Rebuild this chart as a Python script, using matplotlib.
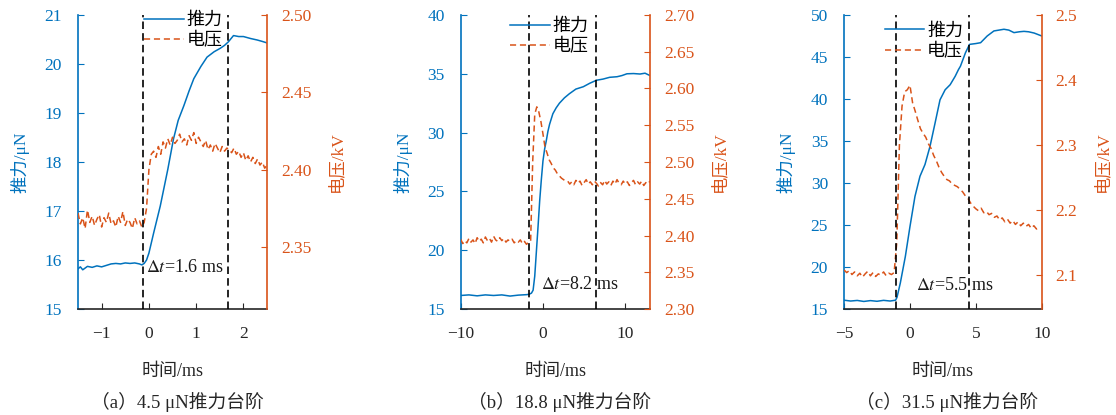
import matplotlib
matplotlib.use('Agg')
import matplotlib.pyplot as plt
import numpy as np
from matplotlib.ticker import FormatStrFormatter

plt.rcParams['font.family'] = ['Liberation Serif', 'Noto Sans CJK SC']
plt.rcParams['mathtext.fontset'] = 'stix'
plt.rcParams['axes.unicode_minus'] = True

BLUE = '#0072BD'
ORANGE = '#D95319'
FS = 12.5

# ---- (a) 4.5 uN step ----
ta_force = [-1.5, -1.45, -1.4, -1.3, -1.2, -1.1, -1.0, -0.9, -0.8, -0.7, -0.6, -0.5,
            -0.4, -0.3, -0.2, -0.15, -0.1, -0.05, 0.0, 0.1, 0.24, 0.4, 0.52, 0.62,
            0.74, 0.85, 0.95, 1.1, 1.23, 1.38, 1.51, 1.6, 1.68, 1.79, 1.9, 2.0,
            2.15, 2.29, 2.4, 2.5]
fa = [15.82, 15.86, 15.80, 15.87, 15.85, 15.88, 15.86, 15.89, 15.92, 15.93, 15.92, 15.94,
      15.93, 15.94, 15.92, 15.90, 15.93, 16.0, 16.14, 16.55, 17.1, 17.85, 18.47, 18.85,
      19.15, 19.45, 19.7, 19.95, 20.14, 20.25, 20.32, 20.38, 20.45, 20.58, 20.56, 20.56,
      20.52, 20.49, 20.46, 20.43]
ta_volt = np.linspace(-1.5, 2.5, 81)
va = [2.372, 2.365, 2.369, 2.362, 2.374, 2.366, 2.370, 2.364, 2.368, 2.371,
      2.363, 2.369, 2.366, 2.372, 2.365, 2.367, 2.363, 2.370, 2.366, 2.373,
      2.364, 2.368, 2.366, 2.362, 2.369, 2.365, 2.367, 2.363,
      2.366, 2.375, 2.400, 2.410,
      2.412, 2.408, 2.415, 2.410, 2.418, 2.414, 2.420, 2.416, 2.421, 2.417,
      2.419, 2.423, 2.418, 2.420, 2.416, 2.422, 2.419, 2.424, 2.417, 2.421,
      2.418, 2.415, 2.419, 2.413, 2.416, 2.412, 2.417, 2.414, 2.411, 2.415, 2.412, 2.414,
      2.413, 2.411, 2.414, 2.410, 2.412, 2.408, 2.411, 2.406, 2.409, 2.405,
      2.408, 2.404, 2.407, 2.403, 2.405, 2.401, 2.403]

# ---- (b) 18.8 uN step ----
tb_force = [-10, -9, -8, -7, -6, -5, -4, -3, -2, -1.7, -1.4, -1.2, -1.0, -0.8, -0.6,
            -0.4, -0.2, 0.0, 0.2, 0.4, 0.6, 0.8, 1.2, 1.6, 2.0, 2.6, 3.2, 4.0, 4.9,
            5.7, 6.5, 7.3, 8.1, 9.0, 9.6, 10.2, 11.0, 11.8, 12.4, 13.0]
fb = [16.15, 16.2, 16.12, 16.2, 16.15, 16.2, 16.1, 16.18, 16.22, 16.25, 16.35, 16.6,
      17.8, 19.9, 22.0, 24.2, 26.0, 27.6, 28.6, 29.3, 30.1, 30.7, 31.6, 32.1, 32.5,
      32.95, 33.3, 33.7, 33.9, 34.2, 34.45, 34.55, 34.7, 34.75, 34.85, 35.0, 35.02,
      34.98, 35.05, 34.85]
tb_volt = np.linspace(-10, 13, 93)
vb = [2.395, 2.389, 2.393, 2.390, 2.396, 2.391, 2.394, 2.389, 2.397, 2.392,
      2.395, 2.390, 2.398, 2.393, 2.396, 2.391, 2.399, 2.394, 2.392, 2.397,
      2.393, 2.396, 2.391, 2.394, 2.392, 2.395, 2.390, 2.393, 2.391, 2.394,
      2.389, 2.392, 2.388, 2.391,
      2.392, 2.500, 2.565, 2.575, 2.568, 2.555, 2.538, 2.520, 2.512, 2.503,
      2.498, 2.492, 2.489, 2.484, 2.481, 2.478, 2.476, 2.474,
      2.474, 2.470, 2.473, 2.469, 2.475, 2.471, 2.474, 2.468, 2.472, 2.476,
      2.470, 2.473, 2.469, 2.474, 2.471, 2.467, 2.472, 2.469, 2.475, 2.470,
      2.473, 2.468, 2.474, 2.470, 2.476, 2.471, 2.469, 2.474, 2.470, 2.473,
      2.468, 2.472, 2.475, 2.469, 2.473, 2.470, 2.474, 2.468, 2.472, 2.470,
      2.474]

# ---- (c) 31.5 uN step ----
tc_force = [-5, -4.5, -4, -3.5, -3, -2.5, -2, -1.5, -1.09, -0.98, -0.73, -0.35, 0.0,
            0.38, 0.76, 1.14, 1.52, 1.9, 2.28, 2.67, 3.05, 3.43, 3.68, 3.83, 4.21,
            4.52, 5.0, 5.36, 5.86, 6.37, 7.13, 7.5, 7.89, 8.3, 8.65, 9.0, 9.42, 10.0]
fc = [16.05, 15.95, 16.02, 15.9, 16.0, 15.92, 16.03, 15.95, 16.05, 16.4, 18.1, 21.25,
      24.8, 28.4, 30.8, 32.2, 34.35, 37.1, 39.9, 41.1, 41.7, 42.7, 43.5, 43.9, 45.5,
      46.5, 46.6, 46.7, 47.5, 48.1, 48.3, 48.2, 47.9, 48.0, 48.05, 48.0, 47.85, 47.5]
tc_volt = np.linspace(-5, 9.8, 75)
vc = [2.108, 2.104, 2.107, 2.101, 2.105, 2.099, 2.103, 2.097, 2.102, 2.106,
      2.099, 2.104, 2.098, 2.102, 2.100, 2.105, 2.099, 2.103, 2.101, 2.104,
      2.150, 2.300, 2.360, 2.382, 2.385, 2.392, 2.365, 2.352, 2.338, 2.325,
      2.318, 2.312, 2.302, 2.295, 2.284, 2.276, 2.266, 2.258, 2.252, 2.247,
      2.245, 2.240, 2.238, 2.236, 2.232, 2.228, 2.222, 2.218, 2.211,
      2.206, 2.202, 2.199, 2.203, 2.196, 2.198, 2.193, 2.195, 2.189, 2.191,
      2.185, 2.188, 2.182, 2.186, 2.180, 2.184, 2.178, 2.182, 2.176, 2.180,
      2.175, 2.178, 2.172, 2.176, 2.171, 2.174]

panels = [
    dict(tf=ta_force, f=fa, tv=ta_volt, v=va, xlim=(-1.5, 2.5), xticks=[-1, 0, 1, 2],
         ylim=(15, 21), yticks=np.arange(15, 22, 1), ylim2=(2.31, 2.50),
         yticks2=[2.35, 2.40, 2.45, 2.50], fmt2='%.2f', vlines=(-0.13, 1.67),
         dt_text=r'$\Delta t$=1.6 ms', dt_pos=(-0.06, 15.85), leg=(0.35, 1.01),
         pos=[0.0699, 0.2554, 0.1694, 0.7085], cap='（a）4.5 μN推力台阶'),
    dict(tf=tb_force, f=fb, tv=tb_volt, v=vb, xlim=(-10, 13), xticks=[-10, 0, 10],
         ylim=(15, 40), yticks=np.arange(15, 41, 5), ylim2=(2.30, 2.70),
         yticks2=np.arange(2.30, 2.71, 0.05), fmt2='%.2f', vlines=(-1.7, 6.5),
         dt_text=r'$\Delta t$=8.2 ms', dt_pos=(-0.3, 17.05), leg=(0.26, 0.99),
         pos=[0.4128, 0.2554, 0.1696, 0.7085], cap='（b）18.8 μN推力台阶'),
    dict(tf=tc_force, f=fc, tv=tc_volt, v=vc, xlim=(-5, 10), xticks=[-5, 0, 5, 10],
         ylim=(15, 50), yticks=np.arange(15, 51, 5), ylim2=(2.048, 2.50),
         yticks2=[2.1, 2.2, 2.3, 2.4, 2.5], fmt2='%.1f', vlines=(-1.09, 4.5),
         dt_text=r'$\Delta t$=5.5 ms', dt_pos=(0.45, 17.85), leg=(0.205, 0.975),
         pos=[0.7563, 0.2554, 0.1772, 0.7085], cap='（c）31.5 μN推力台阶'),
]

fig = plt.figure(figsize=(11.16, 4.15), dpi=100)

for p in panels:
    ax = fig.add_axes(p['pos'])
    ax2 = ax.twinx()
    l1, = ax.plot(p['tf'], p['f'], color=BLUE, lw=1.1, label='推力')
    l2, = ax2.plot(p['tv'], p['v'], color=ORANGE, lw=1.1, dashes=(4, 2.5), label='电压')
    for xv in p['vlines']:
        ax2.axvline(xv, color='black', lw=1.2, dashes=(4.5, 2.5))

    ax.set_xlim(p['xlim'])
    ax.set_xticks(p['xticks'])
    ax.set_ylim(p['ylim'])
    ax.set_yticks(p['yticks'])
    ax2.set_ylim(p['ylim2'])
    ax2.set_yticks(p['yticks2'])
    ax2.yaxis.set_major_formatter(FormatStrFormatter(p['fmt2']))

    for a in (ax, ax2):
        a.spines['top'].set_visible(False)
    ax.spines['right'].set_visible(False)
    ax2.spines['left'].set_visible(False)
    ax.spines['left'].set_color(BLUE)
    ax2.spines['right'].set_color(ORANGE)
    ax.spines['bottom'].set_color('#262626')
    ax2.spines['bottom'].set_visible(False)
    for a in (ax, ax2):
        for s in a.spines.values():
            s.set_linewidth(1.2)

    ax.tick_params(axis='x', direction='in', length=4, pad=12, labelsize=FS,
                   color='#262626', labelcolor='#262626')
    ax.tick_params(axis='y', direction='in', length=4, pad=11.5, labelsize=FS,
                   color=BLUE, labelcolor=BLUE)
    ax2.tick_params(axis='y', direction='in', length=4, pad=10, labelsize=FS,
                    color=ORANGE, labelcolor=ORANGE)

    ax.set_xlabel('时间/ms', fontsize=13, color='#262626', labelpad=15)
    ax.set_ylabel('推力/μN', fontsize=FS, color=BLUE, labelpad=11)
    ax2.set_ylabel('电压/kV', fontsize=FS, color=ORANGE, rotation=90, labelpad=12)

    ax.text(p['dt_pos'][0], p['dt_pos'][1], p['dt_text'], fontsize=13,
            color='#1a1a1a', va='center', ha='left')

    ax2.legend([l1, l2], ['推力', '电压'], loc='upper left', bbox_to_anchor=p['leg'],
               frameon=False, fontsize=13, handlelength=2.2, handletextpad=0.15,
               labelspacing=0.2, borderpad=0, borderaxespad=0)

    cx = p['pos'][0] + p['pos'][2] / 2 + 0.004
    fig.text(cx, 1 - 402 / 415, p['cap'], ha='center', va='center',
             fontsize=13.5, color='#262626')

fig.savefig('out.png', dpi=100)
